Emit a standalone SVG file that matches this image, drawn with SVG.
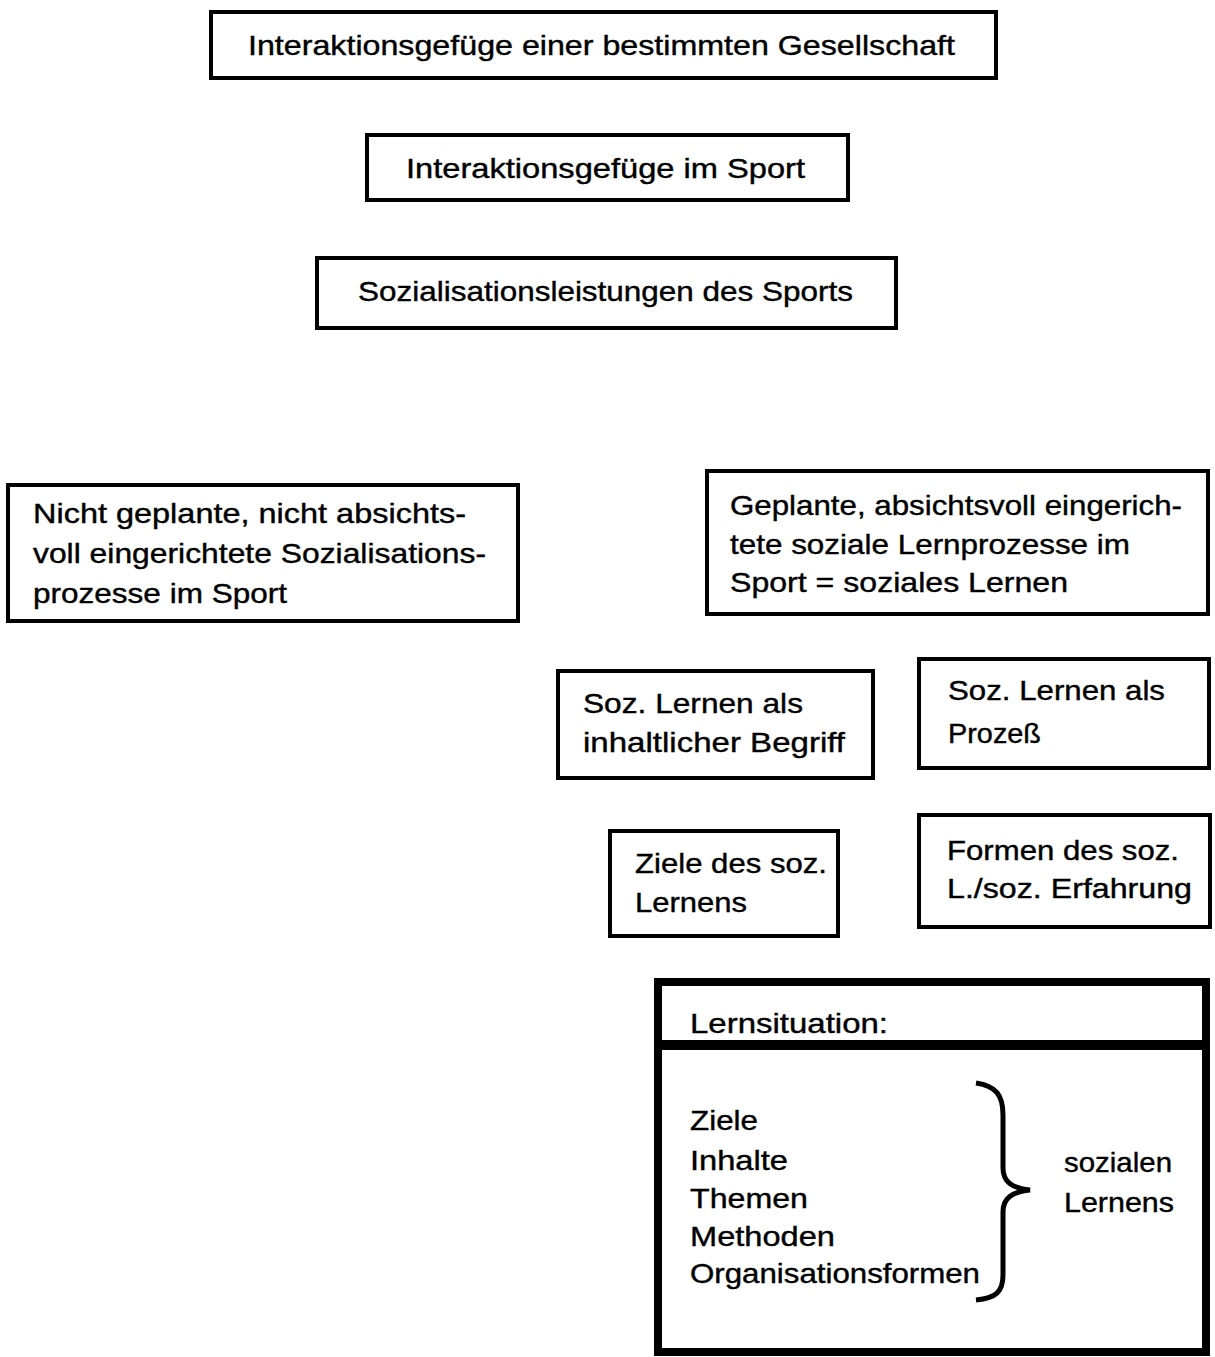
<svg xmlns="http://www.w3.org/2000/svg" width="1215" height="1357" viewBox="0 0 1215 1357">
<style>
.box{fill:#fff;stroke:#000;stroke-width:4}
.t{font-family:"Liberation Sans","DejaVu Sans",sans-serif;font-size:28px;fill:#000;stroke:#000;stroke-width:0.4}
.thick{fill:none;stroke:#000;stroke-width:8}
</style>
<rect width="1215" height="1357" fill="#fff"/>
<g id="n1"><rect class="box" x="211" y="12" width="785" height="66"/>
<text class="t" x="248" y="55" textLength="707" lengthAdjust="spacingAndGlyphs">Interaktionsgefüge einer bestimmten Gesellschaft</text></g>
<g id="n2"><rect class="box" x="367" y="135" width="481" height="65"/>
<text class="t" x="406" y="178" textLength="399" lengthAdjust="spacingAndGlyphs">Interaktionsgefüge im Sport</text></g>
<g id="n3"><rect class="box" x="317" y="258" width="579" height="70"/>
<text class="t" x="358" y="301" textLength="495" lengthAdjust="spacingAndGlyphs">Sozialisationsleistungen des Sports</text></g>
<g id="n4"><rect class="box" x="8" y="485" width="510" height="136"/>
<text class="t" x="33" y="523" textLength="433" lengthAdjust="spacingAndGlyphs">Nicht geplante, nicht absichts-</text>
<text class="t" x="33" y="563" textLength="453" lengthAdjust="spacingAndGlyphs">voll eingerichtete Sozialisations-</text>
<text class="t" x="33" y="603" textLength="254" lengthAdjust="spacingAndGlyphs">prozesse im Sport</text></g>
<g id="n5"><rect class="box" x="707" y="471" width="501" height="143"/>
<text class="t" x="730" y="515" textLength="452" lengthAdjust="spacingAndGlyphs">Geplante, absichtsvoll eingerich-</text>
<text class="t" x="730" y="554" textLength="400" lengthAdjust="spacingAndGlyphs">tete soziale Lernprozesse im</text>
<text class="t" x="730" y="592" textLength="338" lengthAdjust="spacingAndGlyphs">Sport = soziales Lernen</text></g>
<g id="n6"><rect class="box" x="558" y="671" width="315" height="107"/>
<text class="t" x="583" y="713" textLength="220" lengthAdjust="spacingAndGlyphs">Soz. Lernen als</text>
<text class="t" x="583" y="752" textLength="262" lengthAdjust="spacingAndGlyphs">inhaltlicher Begriff</text></g>
<g id="n7"><rect class="box" x="919" y="659" width="290" height="109"/>
<text class="t" x="948" y="700" textLength="217" lengthAdjust="spacingAndGlyphs">Soz. Lernen als</text>
<text class="t" x="948" y="743" textLength="93" lengthAdjust="spacingAndGlyphs">Prozeß</text></g>
<g id="n8"><rect class="box" x="610" y="831" width="228" height="105"/>
<text class="t" x="635" y="873" textLength="192" lengthAdjust="spacingAndGlyphs">Ziele des soz.</text>
<text class="t" x="635" y="912" textLength="112" lengthAdjust="spacingAndGlyphs">Lernens</text></g>
<g id="n9"><rect class="box" x="919" y="815" width="291" height="112"/>
<text class="t" x="947" y="860" textLength="232" lengthAdjust="spacingAndGlyphs">Formen des soz.</text>
<text class="t" x="947" y="898" textLength="245" lengthAdjust="spacingAndGlyphs">L./soz. Erfahrung</text></g>
<g id="n10">
<rect class="thick" x="658" y="982" width="548" height="370"/>
<line x1="658" y1="1045" x2="1206" y2="1045" stroke="#000" stroke-width="10"/>
<text class="t" x="690" y="1033" textLength="198" lengthAdjust="spacingAndGlyphs">Lernsituation:</text>
<text class="t" x="690" y="1130" textLength="68" lengthAdjust="spacingAndGlyphs">Ziele</text>
<text class="t" x="690" y="1170" textLength="98" lengthAdjust="spacingAndGlyphs">Inhalte</text>
<text class="t" x="690" y="1208" textLength="118" lengthAdjust="spacingAndGlyphs">Themen</text>
<text class="t" x="690" y="1246" textLength="145" lengthAdjust="spacingAndGlyphs">Methoden</text>
<text class="t" x="690" y="1283" textLength="290" lengthAdjust="spacingAndGlyphs">Organisationsformen</text>
<path d="M976,1083 C996,1086 1003,1095 1003,1115 L1003,1168 C1003,1182 1012,1188 1030,1190 C1012,1192 1003,1198 1003,1212 L1003,1275 C1003,1292 996,1298 976,1300" fill="none" stroke="#000" stroke-width="5"/>
<text class="t" x="1064" y="1172" textLength="108" lengthAdjust="spacingAndGlyphs">sozialen</text>
<text class="t" x="1064" y="1212" textLength="110" lengthAdjust="spacingAndGlyphs">Lernens</text>
</g>
<g id="connectors"></g>
</svg>
